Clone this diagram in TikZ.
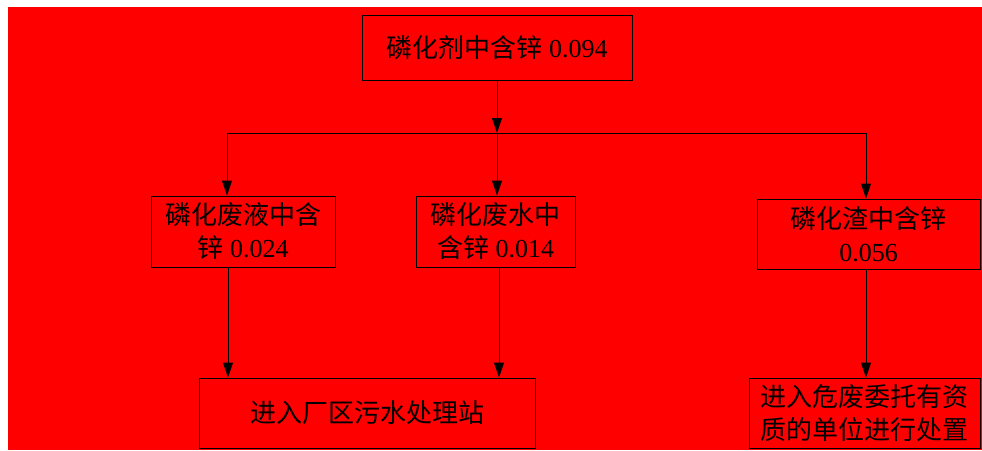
\documentclass[tikz,border=0pt]{standalone}
\usepackage{fontspec}
\setmainfont{Liberation Serif}
\newfontfamily\cjk{Noto Sans CJK SC}
\usetikzlibrary{arrows.meta}
\definecolor{bgred}{RGB}{255,0,0}
\tikzset{
  box/.style={draw=black, line width=0.9pt, inner sep=0pt, align=center,
    font=\fontsize{26}{33}\selectfont},
  conn/.style={line width=0.9pt, draw=black},
  arr/.style={conn, -{Triangle[length=15pt,width=10pt]}}
}
\begin{document}
\begin{tikzpicture}[x=1pt,y=-1pt]
\useasboundingbox (0,0) rectangle (982,450);
\fill[white] (0,0) rectangle (982,450);
\fill[bgred] (8,7) rectangle (982,450);
\node[box, minimum width=270pt, minimum height=65pt] (top) at (497,47.5) {{\cjk 磷化剂中含锌} 0.094};
\node[box, minimum width=184pt, minimum height=71pt] (b1) at (243,231.5) {{\cjk 磷化废液中含}\\{\cjk 锌} 0.024};
\node[box, minimum width=159pt, minimum height=71pt] (b2) at (495.5,231.5) {{\cjk 磷化废水中}\\{\cjk 含锌} 0.014};
\node[box, minimum width=223pt, minimum height=70pt] (b3) at (868.5,234) {{\cjk 磷化渣中含锌}\\0.056};
\node[box, minimum width=336pt, minimum height=70pt] (b4) at (367,413) {\cjk 进入厂区污水处理站};
\node[box, minimum width=231pt, minimum height=70pt] (b5) at (864.5,413) {{\cjk 进入危废委托有资}\\{\cjk 质的单位进行处置}};
\coordinate (busL) at (227,133);
\coordinate (busM) at (497,133);
\coordinate (busR) at (866,133);
\draw[arr] (top.south -| busM) -- (busM);
\draw[conn] (busL) -- (busR);
\draw[arr] (busL) -- (busL |- b1.north);
\draw[arr] (busM) -- (busM |- b2.north);
\draw[arr] (busR) -- (busR |- b3.north);
\coordinate (d1) at (228,0);
\coordinate (d2) at (499,0);
\draw[arr] (d1 |- b1.south) -- (d1 |- b4.north);
\draw[arr] (d2 |- b2.south) -- (d2 |- b4.north);
\draw[arr] (busR |- b3.south) -- (busR |- b5.north);
\end{tikzpicture}
\end{document}
